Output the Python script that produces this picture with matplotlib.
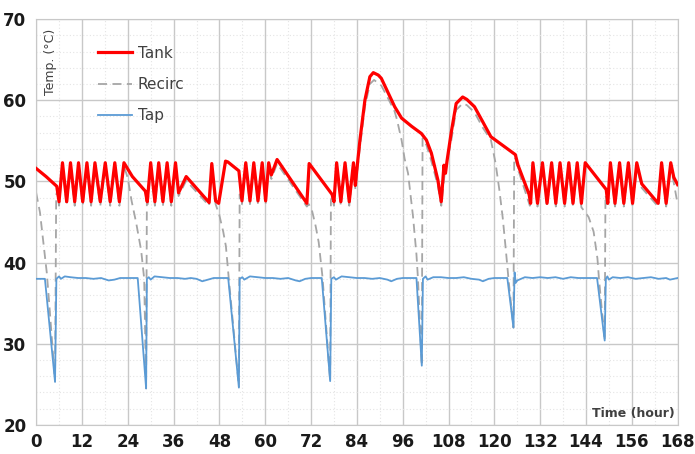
import matplotlib
matplotlib.use("Agg")
import matplotlib.pyplot as plt
from matplotlib.ticker import MultipleLocator

# Tank temperature (hour, degC)
tank_h = [0, 2.6, 5.4, 6.0, 6.9, 8.0, 9.0, 10.1, 11.1, 12.2, 13.3, 14.4, 15.4, 16.8, 18.1,
          19.4, 20.6, 21.8, 23.0, 25.2, 28.6, 29.1, 30.0, 31.1, 32.1, 33.2, 34.3, 35.4, 36.5,
          37.3, 39.3, 45.3, 46.0, 47.0, 47.8, 49.6, 50.2, 53.1, 53.9, 54.9, 56.0, 57.0, 58.1,
          59.2, 60.1, 60.9, 61.6, 63.1, 70.9, 71.5, 77.5, 78.0, 78.7, 79.8, 80.9, 82.0, 83.1,
          83.6, 84.0, 84.8, 86.1, 87.4, 88.3, 89.6, 90.4, 92.2, 93.9, 95.7, 98.3, 100.9, 102.2,
          103.5, 105.2, 106.1, 106.8, 107.2, 107.6, 108.7, 110.0, 111.7, 112.8, 114.8, 116.9,
          119.1, 122.6, 125.5, 126.2, 129.1, 129.5, 130.1, 131.3, 132.6, 133.8, 135.0, 136.1,
          137.2, 138.4, 139.5, 140.6, 141.7, 142.8, 143.8, 149.3, 149.7, 150.4, 151.6, 152.8,
          153.9, 155.1, 156.2, 157.3, 158.6, 162.9, 163.8, 165.0, 166.2, 167.0, 168.0]
tank_t = [51.6, 50.6, 49.4, 47.5, 52.3, 47.5, 52.3, 47.5, 52.3, 47.5, 52.3, 47.5, 52.3, 47.5, 52.3,
          47.5, 52.3, 47.5, 52.3, 50.6, 48.8, 47.5, 52.3, 47.5, 52.3, 47.5, 52.3, 47.5, 52.3,
          48.6, 50.6, 47.4, 52.2, 47.6, 47.3, 52.5, 52.4, 51.3, 47.6, 52.3, 47.6, 52.3, 47.6,
          52.3, 47.6, 52.3, 50.8, 52.7, 47.3, 52.2, 48.4, 47.5, 52.3, 47.5, 52.3, 47.5, 52.3,
          49.5, 51.5, 55.1, 60.0, 62.9, 63.4, 63.1, 62.7, 60.9, 59.2, 57.8, 56.8, 55.9, 55.1,
          53.5, 50.2, 47.5, 52.0, 51.0, 52.5, 56.0, 59.6, 60.4, 60.1, 59.2, 57.4,
          55.5, 54.3, 53.3, 52.0, 48.4, 47.3, 52.3, 47.3, 52.3, 47.3, 52.3, 47.3,
          52.3, 47.3, 52.3, 47.3, 52.3, 47.3, 52.3, 49.0, 47.3, 52.3, 47.3, 52.3,
          47.3, 52.3, 47.3, 52.3, 49.7, 47.3, 52.3, 47.3, 52.3, 50.5, 49.6]

# Recirculation temperature
recirc_h = [0, 1.0, 2.0, 2.8, 3.5, 4.95, 5.25, 5.5, 6.0, 6.9, 8.0, 9.0, 10.1, 11.1, 12.2, 13.3,
            14.4, 15.4, 16.8, 18.1, 19.4, 20.6, 21.8, 23.0, 24.0, 25.0, 26.2, 27.5, 28.3, 28.8,
            29.0, 29.2, 30.0, 31.1, 32.1, 33.2, 34.3, 35.4, 36.5, 37.3, 39.3, 45.3, 46.0, 47.0,
            48.0, 49.0, 49.7, 50.4, 53.1, 53.3, 53.9, 54.9, 56.0, 57.0, 58.1, 59.2, 60.1, 60.9,
            61.6, 63.1, 70.9, 71.4, 72.2, 73.2, 74.0, 75.0, 77.0, 77.2, 77.5, 78.0, 78.7, 79.8,
            80.9, 82.0, 83.1, 83.6, 84.5, 86.1, 87.4, 88.5, 90.4, 92.2, 93.9, 94.5, 95.7, 96.5,
            97.4, 98.0, 98.7, 99.6, 100.0, 101.0, 101.2, 102.2, 103.5, 105.2, 106.1, 107.0,
            108.7, 110.0, 111.7, 112.8, 114.8, 117.0, 119.1, 120.3, 121.3, 122.2, 123.0, 123.7,
            125.0, 125.2, 125.5, 126.2, 129.3, 130.1, 131.3, 132.6, 133.8, 135.0, 136.1, 137.2,
            138.4, 139.5, 140.6, 141.7, 142.8, 143.8, 144.7, 146.0, 147.0, 147.4, 148.9, 149.1,
            149.7, 150.4, 151.6, 152.8, 153.9, 155.1, 156.2, 157.3, 158.6, 162.9, 163.8, 165.0,
            166.2, 168.0]
recirc_t = [48.6, 46.2, 42.0, 38.7, 34.5, 25.4, 48.3, 48.8, 47.0, 51.9, 47.0, 51.9, 47.0, 51.9, 47.0, 51.9,
            47.0, 51.9, 47.0, 51.9, 47.0, 51.9, 47.0, 51.9, 50.4, 47.6, 44.9, 41.5, 38.0, 24.5,
            47.8, 47.0, 51.9, 47.0, 51.9, 47.0, 51.9, 47.0, 51.9, 48.2, 50.1, 47.0, 51.8, 47.2,
            45.8, 43.8, 42.0, 38.3, 24.7, 48.4, 47.2, 51.9, 47.2, 51.9, 47.2, 51.9, 47.2, 51.9,
            50.3, 52.2, 46.9, 47.2, 46.5, 44.5, 42.5, 38.2, 25.4, 47.7, 48.0, 47.0, 51.9, 47.0,
            51.9, 47.0, 51.9, 49.0, 53.0, 59.2, 62.0, 62.5, 61.8, 60.2, 58.6, 57.6, 55.1, 52.8,
            51.0, 48.5, 45.7, 41.0, 38.0, 27.3, 55.3, 54.5, 52.5, 49.5, 47.0, 51.0,
            55.0, 58.8, 59.6, 59.4, 58.5, 56.6, 55.1, 52.3, 49.0, 45.5, 41.6, 38.0,
            32.0, 53.0, 52.8, 51.5, 47.0, 51.9, 46.9, 51.9, 46.9, 51.9, 46.9, 51.9,
            46.9, 51.9, 46.9, 51.9, 46.8, 46.2, 45.6, 43.8, 40.5, 38.0, 30.4, 48.3,
            46.9, 51.9, 46.9, 51.9, 46.9, 51.9, 46.9, 51.9, 49.2, 46.9, 51.9, 46.9,
            51.9, 47.2]

# Tap (mixed) temperature
tap_h = [0, 1.0, 2.3, 4.95, 5.3, 6.0, 6.5, 7.5, 9, 11, 13, 15, 17, 19, 20.5, 22, 24, 26.6,
         28.8, 29.0, 29.5, 30, 31, 33, 35, 37, 39, 40.5, 42, 43.5, 45, 46.5, 48, 50.3,
         53.1, 53.3, 54, 54.5, 56, 58, 60, 62, 64, 66, 68, 69, 70.5, 72, 74.8,
         77.0, 77.3, 78, 78.5, 80, 82, 84, 86, 88, 90, 92, 93, 94.5, 96, 99.6,
         101.0, 101.3, 102, 102.5, 104, 106, 108, 110, 112, 114, 116, 117, 118.5, 120, 123.4,
         125.0, 125.3, 125.6, 126, 127, 128, 130, 132, 134, 136, 138, 140, 142, 144, 146.9,
         148.9, 149.2, 149.6, 150, 151, 153, 155, 157, 159, 161, 163, 165, 166, 168]
tap_t = [38.0, 38.0, 38.0, 25.3, 38.0, 38.3, 38.0, 38.3, 38.2, 38.1, 38.1, 38.0, 38.1, 37.8, 37.9, 38.1, 38.1, 38.1,
         24.5, 38.0, 38.2, 37.9, 38.3, 38.2, 38.1, 38.1, 38.0, 38.1, 38.0, 37.7, 37.9, 38.1, 38.1, 38.1,
         24.6, 38.0, 38.2, 37.9, 38.3, 38.2, 38.1, 38.1, 38.0, 38.1, 37.8, 37.7, 38.0, 38.1, 38.1,
         25.4, 38.0, 38.2, 37.9, 38.3, 38.2, 38.1, 38.1, 38.0, 38.1, 37.9, 37.7, 38.0, 38.1, 38.1,
         27.3, 38.0, 38.3, 37.9, 38.2, 38.2, 38.1, 38.1, 38.2, 38.0, 37.9, 37.7, 38.0, 38.1, 38.1,
         32.0, 38.8, 37.5, 37.8, 38.0, 38.2, 38.1, 38.2, 38.1, 38.2, 38.0, 38.2, 38.1, 38.1, 38.1,
         30.4, 38.0, 38.3, 37.9, 38.2, 38.1, 38.2, 38.0, 38.1, 38.2, 38.0, 38.1, 37.9, 38.1]

x_ticks = list(range(0, 169, 12))
y_ticks = list(range(20, 71, 10))

fig = plt.figure(figsize=(6.95, 4.54), dpi=100)
ax = fig.add_axes([0.052, 0.064, 0.923, 0.894])

ax.plot(recirc_h, recirc_t, color='#a6a6a6', linewidth=1.3, dashes=(5, 3), label='Recirc', zorder=2)
ax.plot(tap_h, tap_t, color='#5b9bd5', linewidth=1.3, label='Tap', zorder=3)
ax.plot(tank_h, tank_t, color='#ff0000', linewidth=2.3, label='Tank', zorder=4)

ax.set_xlim(0, 168)
ax.set_ylim(20, 70)
ax.set_xticks(x_ticks)
ax.set_yticks(y_ticks)
ax.xaxis.set_minor_locator(MultipleLocator(6))
ax.yaxis.set_minor_locator(MultipleLocator(2))
ax.grid(True, which='major', color='#c8c8c8', linewidth=1.0)
ax.grid(True, which='minor', color='#e4e4e4', linewidth=0.8, linestyle=(0, (1, 2)))
ax.set_axisbelow(True)
ax.tick_params(which='both', length=0)
ax.tick_params(axis='x', pad=6)
ax.tick_params(axis='y', pad=7)
for lab in ax.get_xticklabels() + ax.get_yticklabels():
    lab.set_fontweight('bold')
    lab.set_fontsize(12)
    lab.set_color('#1a1a1a')
for sp in ax.spines.values():
    sp.set_color('#c8c8c8')

ax.text(0.012, 0.975, 'Temp. (°C)', transform=ax.transAxes, rotation=90,
        ha='left', va='top', fontsize=9, color='#404040')
ax.text(0.995, 0.028, 'Time (hour)', transform=ax.transAxes, ha='right', va='center',
        fontsize=9, fontweight='bold', color='#404040')

handles, labels = ax.get_legend_handles_labels()
order = [2, 0, 1]
ax.legend([handles[i] for i in order], [labels[i] for i in order],
          loc='upper left', bbox_to_anchor=(0.075, 0.968), frameon=False,
          fontsize=11, handlelength=2.2, labelspacing=1.05, handletextpad=0.4,
          labelcolor='#404040')

fig.savefig('out.png', dpi=100)
